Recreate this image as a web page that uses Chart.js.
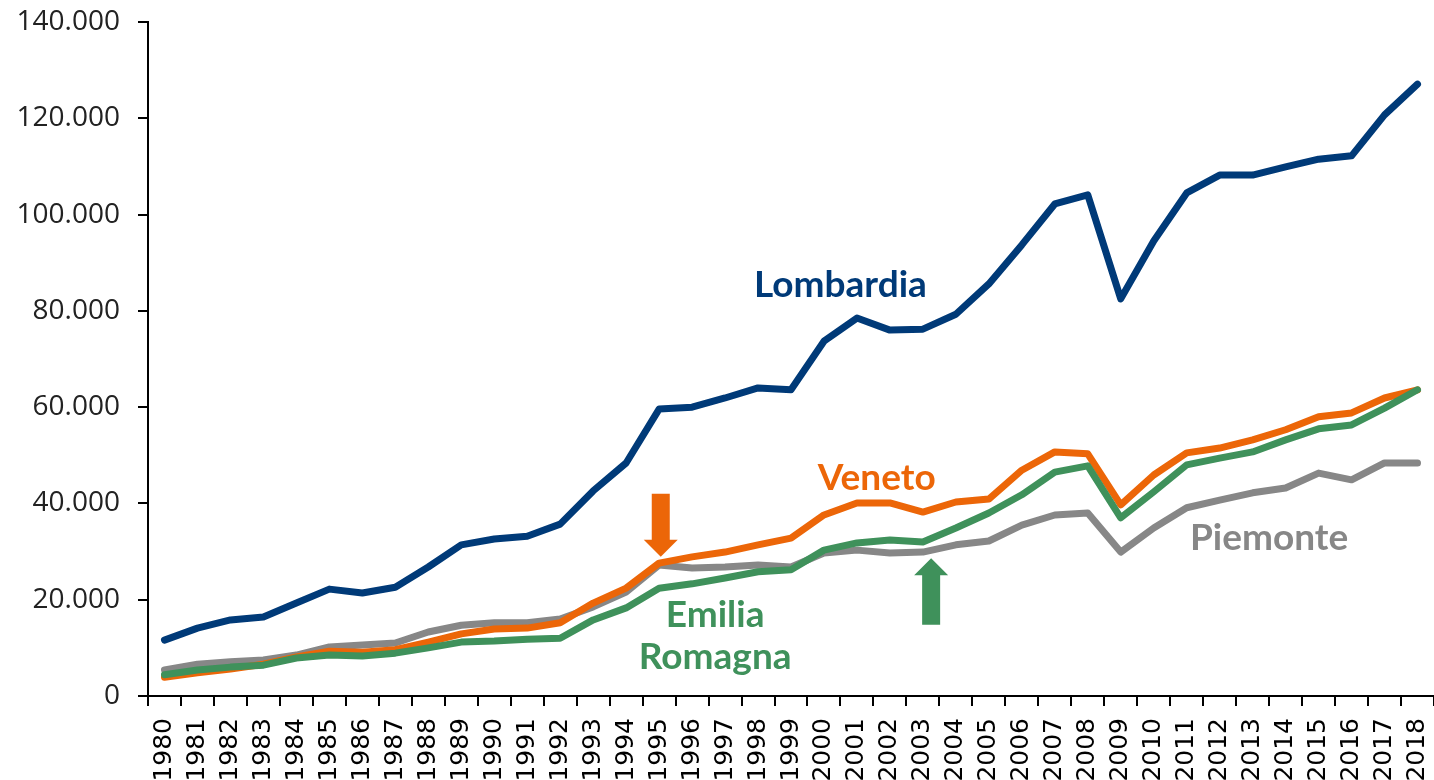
<!DOCTYPE html>
<html>
<head>
<meta charset="utf-8">
<script src="https://cdn.jsdelivr.net/npm/chart.js@4.4.1/dist/chart.umd.min.js"></script>
<style>
  html, body {
    margin: 0;
    padding: 0;
    background: #fff;
  }
  #wrap {
    width: 1434px;
    height: 780px;
    position: relative;
  }
</style>
</head>
<body>
<div id="wrap"><canvas id="myChart"></canvas></div>
<script>

const years = ['1980','1981','1982','1983','1984','1985','1986','1987','1988','1989',
  '1990','1991','1992','1993','1994','1995','1996','1997','1998','1999',
  '2000','2001','2002','2003','2004','2005','2006','2007','2008','2009',
  '2010','2011','2012','2013','2014','2015','2016','2017','2018'];

const lombardia = [11600, 14100, 15800, 16400, 19300, 22200, 21400, 22600, 26800, 31400,
  32600, 33200, 35700, 42600, 48400, 59600, 60000, 61900, 64000, 63600,
  73700, 78500, 76000, 76200, 79300, 85600, 93700, 102200, 104100, 82500,
  94500, 104500, 108200, 108200, 109900, 111500, 112200, 120700, 127100];

const veneto = [3900, 4800, 5600, 6600, 8100, 9300, 9100, 9600, 11200, 12900,
  13900, 14100, 15200, 19300, 22400, 27600, 28900, 29900, 31400, 32800,
  37600, 40100, 40100, 38200, 40300, 40900, 46900, 50700, 50300, 39700,
  45900, 50500, 51500, 53200, 55300, 58000, 58800, 61900, 63600];

const emilia = [4400, 5400, 6000, 6400, 7900, 8500, 8300, 8900, 10000, 11200,
  11400, 11800, 12000, 15800, 18300, 22400, 23300, 24500, 25800, 26200,
  30300, 31800, 32400, 32000, 34900, 38000, 41800, 46500, 47800, 37000,
  42400, 48000, 49400, 50700, 53200, 55500, 56300, 59800, 63600];

const piemonte = [5400, 6600, 7100, 7500, 8500, 10200, 10600, 11000, 13300, 14700,
  15200, 15200, 16000, 18500, 21600, 27200, 26600, 26800, 27200, 26800,
  29700, 30300, 29700, 29900, 31400, 32200, 35500, 37600, 38000, 29900,
  34900, 39100, 40700, 42200, 43200, 46300, 44900, 48400, 48400];

const yTicks = [0, 20000, 40000, 60000, 80000, 100000, 120000, 140000];

// colori
const BLUE = '#003a78';
const ORANGE = '#ec6608';
const GREEN = '#3f915b';
const GREY = '#878787';

// etichette sulle serie: [testo, indice anno, valore, colore]
const seriesLabels = [
  ['Lombardia', 20.5, 85400, BLUE],
  ['Veneto', 21.6, 45300, ORANGE],
  ['Emilia', 16.7, 16900, GREEN],
  ['Romagna', 16.7, 8100, GREEN],
  ['Piemonte', 33.5, 32800, GREY],
];

// frecce: [indice anno, valore punta, valore coda, colore]
const arrows = [
  [15.05, 28900, 42000, ORANGE],
  [23.25, 28600, 14800, GREEN],
];

function fmt(v) {
  return String(v).replace(/\B(?=(\d{3})+(?!\d))/g, '.');
}

function xAt(scale, idx) {
  const i = Math.floor(idx);
  const a = scale.getPixelForValue(i);
  const b = scale.getPixelForValue(i + 1);
  return a + (b - a) * (idx - i);
}

const annotations = {
  id: 'annotations',
  afterDatasetsDraw(chart) {
    const ctx = chart.ctx;
    const xs = chart.scales.x;
    const ys = chart.scales.y;
    ctx.save();
    arrows.forEach((ar) => {
      const x = xAt(xs, ar[0]);
      const tip = ys.getPixelForValue(ar[1]);
      const tail = ys.getPixelForValue(ar[2]);
      const dir = tail > tip ? 1 : -1;
      const head = 17 * dir;
      ctx.fillStyle = ar[3];
      ctx.beginPath();
      ctx.moveTo(x, tip);
      ctx.lineTo(x + 17, tip + head);
      ctx.lineTo(x + 9, tip + head);
      ctx.lineTo(x + 9, tail);
      ctx.lineTo(x - 9, tail);
      ctx.lineTo(x - 9, tip + head);
      ctx.lineTo(x - 17, tip + head);
      ctx.closePath();
      ctx.fill();
    });
    ctx.font = 'bold 37px Lato';
    ctx.textAlign = 'center';
    ctx.textBaseline = 'middle';
    seriesLabels.forEach((l) => {
      ctx.fillStyle = l[3];
      ctx.fillText(l[0], xAt(xs, l[1]), ys.getPixelForValue(l[2]));
    });
    ctx.restore();
  }
};

const lineStyle = {
  borderWidth: 7,
  pointRadius: 0,
  tension: 0,
  borderCapStyle: 'round',
  borderJoinStyle: 'round',
  fill: false,
};

const config = {
  type: 'line',
  data: {
    labels: years,
    datasets: [
      Object.assign({ label: 'Lombardia', data: lombardia, borderColor: BLUE }, lineStyle),
      Object.assign({ label: 'Emilia Romagna', data: emilia, borderColor: GREEN }, lineStyle),
      Object.assign({ label: 'Veneto', data: veneto, borderColor: ORANGE }, lineStyle),
      Object.assign({ label: 'Piemonte', data: piemonte, borderColor: GREY }, lineStyle),
    ],
  },
  options: {
    responsive: true,
    maintainAspectRatio: false,
    animation: false,
    layout: { padding: { top: 22, right: 0, left: 0, bottom: 0 } },
    plugins: {
      legend: { display: false },
      tooltip: { enabled: false },
      title: { display: false },
    },
    scales: {
      x: {
        offset: true,
        grid: {
          offset: true,
          drawOnChartArea: false,
          drawTicks: true,
          tickLength: 10,
          color: '#000',
          lineWidth: 2,
        },
        border: { color: '#000', width: 2 },
        ticks: {
          color: '#000',
          font: { family: 'DejaVu Sans', size: 25 },
          minRotation: 90,
          maxRotation: 90,
          autoSkip: false,
          padding: 12,
        },
        afterFit(scale) {
          scale.height = 84;
          scale.paddingRight = 0;
          scale.paddingLeft = 0;
        },
      },
      y: {
        min: 0,
        max: 140000,
        afterBuildTicks(scale) {
          scale.ticks = yTicks.map((v) => ({ value: v }));
        },
        grid: {
          drawOnChartArea: false,
          drawTicks: true,
          tickLength: 10,
          color: '#000',
          lineWidth: 2,
        },
        border: { color: '#000', width: 2 },
        ticks: {
          color: '#222',
          font: { family: 'Open Sans', size: 28 },
          padding: 18,
          callback: (v) => fmt(v),
        },
        afterFit(scale) {
          scale.width = 148;
          scale.paddingTop = 0;
          scale.paddingBottom = 0;
        },
      },
    },
  },
  plugins: [annotations],
};

new Chart('myChart', config);
</script>
</body>
</html>
